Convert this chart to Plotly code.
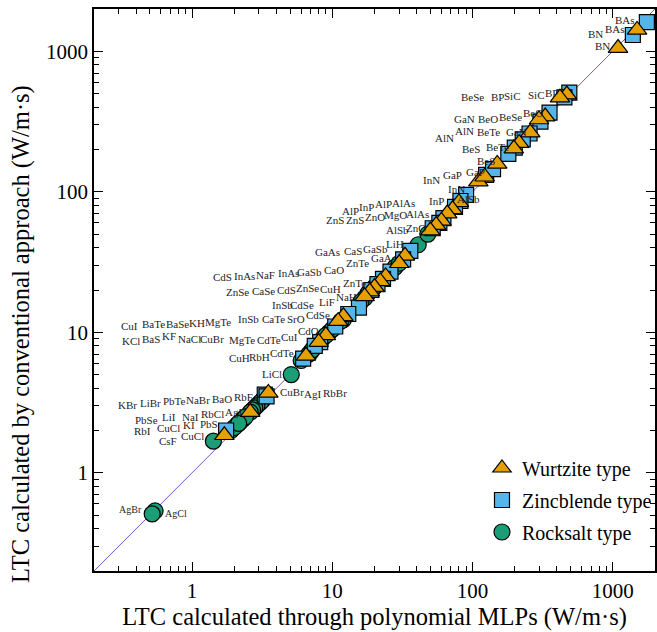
import numpy as np
import plotly.graph_objects as go

# ---------------- data (W/m·s) : x = polynomial MLP, y = conventional ----------------
wz_names = ["BAs", "BN", "BP", "SiC", "BeO", "BeSe", "GaN", "AlN", "BeTe", "BeS", "InN", "GaP",
            "AlP", "InP", "AlAs", "ZnS", "ZnO", "AlSb", "GaAs", "GaSb", "CdS", "InAs", "ZnSe",
            "CuH", "ZnTe", "InSb", "CdSe", "CuI", "MgTe", "CdTe", "CuBr", "AgI", "CuCl"]
wz_mlp = [1490, 1090, 470, 420, 330, 298, 258, 215, 197, 150, 110, 122,
          80, 72, 66, 60, 55, 50, 33, 30, 24, 22, 20,
          18.5, 17, 12, 11, 9, 8, 6.5, 3.5, 2.6, 1.7]
wz_conv = [1420, 1055, 492, 468, 343, 327, 264, 222, 203, 158, 118, 128,
           84, 75, 70, 62, 58, 53, 35, 31, 25, 23, 21,
           19.5, 18, 13, 12, 9.5, 8.5, 6.8, 3.7, 2.7, 1.85]

zb_names = ["BAs", "BN", "BP", "SiC", "BeO", "BeSe", "GaN", "AlN", "BeTe", "BeS", "InN", "GaP",
            "AlP", "InP", "AlAs", "ZnS", "ZnO", "AlSb", "GaAs", "GaSb", "CdS", "InAs", "ZnSe",
            "CuH", "ZnTe", "InSb", "CdSe", "CuI", "MgTe", "CdTe", "CuBr", "AgI", "CuCl"]
zb_mlp = [1750, 1390, 490, 452, 354, 305, 255, 228, 200, 180, 125, 140,
          90, 82, 75, 62, 58, 52, 36, 32, 26, 23, 21,
          15.5, 19, 13, 10.5, 8.2, 7.5, 6.2, 3.3, 3.4, 1.75]
zb_conv = [1615, 1306, 508, 470, 366, 316, 260, 236, 206, 186, 132, 145,
           95, 86, 78, 65, 60, 55, 38, 33, 27, 24, 22,
           15, 20, 13.5, 11, 8.5, 8, 6.5, 3.6, 3.5, 2.0]

rs_names = ["LiH", "MgO", "CaS", "NaF", "CaO", "CaSe", "LiF", "NaH", "KH", "BaTe", "BaSe", "CaTe",
            "SrO", "KCl", "BaS", "KF", "NaCl", "CdO", "RbH", "LiCl", "RbBr", "KBr", "LiBr", "PbTe",
            "NaBr", "BaO", "RbF", "PbSe", "LiI", "NaI", "RbCl", "RbI", "KI", "PbS", "CsF",
            "AgBr", "AgCl"]
rs_mlp = [41, 48, 28, 20, 30, 18, 17, 16, 9.5, 8.5, 10, 12,
          11.5, 7, 7.5, 6.8, 7.2, 9, 6, 5.1, 3.2, 3.0, 3.1, 2.9,
          2.8, 2.7, 2.6, 2.3, 2.2, 2.1, 2.4, 1.9, 2.0, 2.15, 1.42,
          0.545, 0.52]
rs_conv = [42, 50, 29, 21, 31, 19, 17.5, 16.5, 10, 9, 10.5, 12.3,
           12, 7.2, 7.8, 7, 7.5, 9.5, 6.3, 5.0, 3.3, 3.1, 3.2, 3.0,
           2.9, 2.8, 2.7, 2.4, 2.3, 2.2, 2.5, 2.0, 2.1, 2.25, 1.68,
           0.535, 0.51]

# label texts and their placement (pixel position of text centre in the figure)
label_text = ["BAs", "BAs", "BN", "BN", "BeSe", "BP", "SiC", "SiC", "BP",
              "GaN", "BeO", "BeSe", "BeO", "AlN", "AlN", "BeTe", "GaN", "BeS", "BeTe", "BeS",
              "InN", "GaP", "GaP", "InN", "AlSb", "AlP", "InP", "AlP", "AlAs", "InP",
              "ZnS", "ZnS", "ZnO", "MgO", "AlAs", "AlSb", "ZnO",
              "GaAs", "CaS", "GaSb", "LiH",
              "CdS", "InAs", "NaF", "InAs", "GaSb", "CaO", "ZnTe", "GaAs",
              "ZnSe", "CaSe", "CdS", "ZnSe", "CuH", "ZnTe",
              "InSb", "CdSe", "LiF", "NaH",
              "CuI", "BaTe", "BaSe", "KH", "MgTe", "InSb", "CaTe", "SrO", "CdSe",
              "KCl", "BaS", "KF", "NaCl", "CuBr", "MgTe", "CdTe", "CuI", "CdO",
              "CuH", "RbH", "CdTe", "LiCl", "CuBr", "AgI", "RbBr",
              "KBr", "LiBr", "PbTe", "NaBr", "BaO", "RbF",
              "PbSe", "LiI", "NaI", "RbCl", "AgI",
              "RbI", "CuCl", "KI", "PbS", "CsF", "CuCl", "AgBr", "AgCl"]
label_px = [625, 615, 595, 602, 472, 497, 512, 536, 551,
            464, 488, 510, 533, 444, 464, 488, 516, 471, 497, 486,
            431, 452, 475, 456, 468, 350, 366, 383, 403, 436,
            335, 355, 375, 395, 417, 397, 416,
            327, 353, 375, 395,
            222, 244, 265, 288, 309, 334, 357, 383,
            237, 263, 286, 307, 330, 354,
            282, 302, 327, 346,
            129, 153, 177, 197, 218, 248, 273, 296, 318,
            131, 151, 169, 189, 212, 242, 269, 289, 308,
            239, 259, 282, 272, 292, 312, 335,
            127, 150, 174, 198, 222, 243,
            146, 169, 190, 212, 233,
            142, 168, 189, 209, 168, 192, 130, 176]
label_py = [20, 29, 34, 46, 97, 97, 96, 95, 93,
            119, 119, 117, 113, 138, 131, 132, 132, 149, 147, 161,
            180, 175, 172, 189, 199, 211, 207, 204, 203, 201,
            220, 220, 217, 215, 214, 230, 228,
            252, 251, 249, 244,
            277, 276, 275, 273, 272, 270, 263, 258,
            292, 291, 290, 288, 289, 283,
            305, 305, 302, 297,
            326, 324, 324, 323, 322, 319, 319, 319, 315,
            341, 339, 336, 339, 339, 340, 340, 337, 331,
            358, 357, 353, 374, 392, 394, 393,
            405, 403, 401, 400, 399, 397,
            420, 417, 417, 414, 412,
            431, 428, 425, 424, 441, 436, 509, 513]

x_title = "LTC calculated through polynomial MLPs (W/m·s)"
y_title = "LTC calculated by conventional approach (W/m·s)"

# ---------------- figure ----------------
W, H = 657, 632
ML, MR, MT, MB = 94, 2, 9, 61
PW, PH = W - ML - MR, H - MT - MB
LO, HI = 0.2, 2000

SERIF = "Times New Roman, Liberation Serif, serif"


def paper_x(px):
    return (px - ML) / PW


def paper_y(py):
    return (H - MB - py) / PH


fig = go.Figure()

fig.add_trace(go.Scatter(x=[LO, HI], y=[LO, HI], mode="lines",
                         line=dict(color="#7b52c6", width=1), showlegend=False,
                         hoverinfo="skip"))

fig.add_trace(go.Scatter(x=rs_mlp, y=rs_conv, mode="markers", name="Rocksalt type",
                         text=rs_names, legendgroup="r", legendrank=3,
                         marker=dict(symbol="circle", size=16, color="#1b9e77",
                                     line=dict(color="black", width=1.2))))
fig.add_trace(go.Scatter(x=zb_mlp, y=zb_conv, mode="markers", name="Zincblende type",
                         text=zb_names, legendgroup="z", legendrank=2,
                         marker=dict(symbol="square", size=15, color="#56b4e9",
                                     line=dict(color="black", width=1.2))))
fig.add_trace(go.Scatter(x=wz_mlp, y=wz_conv, mode="markers", name="Wurtzite type",
                         text=wz_names, legendgroup="w", legendrank=1,
                         marker=dict(symbol="triangle-up", size=17, color="#e69f00",
                                     line=dict(color="black", width=1.2))))

for t, px, py in zip(label_text, label_px, label_py):
    fs = 10 if t in ("AgBr", "AgCl") else 11
    fig.add_annotation(x=paper_x(px), y=paper_y(py), xref="paper", yref="paper",
                       text=t, showarrow=False, font=dict(family=SERIF, size=fs, color="#1e1e1e"),
                       xanchor="center", yanchor="middle")

# y-axis title (sits lower than the plot centre in the reference)
fig.add_annotation(x=paper_x(21), y=paper_y(334), xref="paper", yref="paper",
                   text=y_title, textangle=-90, showarrow=False,
                   font=dict(family=SERIF, size=24.5, color="black"),
                   xanchor="center", yanchor="middle")

minor_vals = []
for d in [0.1, 1, 10, 100, 1000]:
    for k in range(2, 10):
        v = k * d
        if LO <= v <= HI:
            minor_vals.append(v)

axis_common = dict(type="log", range=[np.log10(LO), np.log10(HI)], automargin=False,
                   tickvals=[1, 10, 100, 1000], ticktext=["1", "10", "100", "1000"],
                   ticks="inside", ticklen=9, tickwidth=1.2, tickcolor="black",
                   minor=dict(tickvals=minor_vals, ticks="inside", ticklen=5,
                              tickwidth=1, tickcolor="black", showgrid=False),
                   showline=True, linecolor="black", linewidth=1.5, mirror="ticks",
                   showgrid=False, zeroline=False,
                   tickfont=dict(family=SERIF, size=21, color="black"))

fig.update_xaxes(**axis_common,
                 title=dict(text=x_title,
                            font=dict(family=SERIF, size=24.5, color="black"), standoff=5))
fig.update_yaxes(**axis_common)

fig.update_layout(width=W, height=H, margin=dict(l=ML, r=MR, t=MT, b=MB, autoexpand=False),
                  font=dict(family=SERIF, color="black"),
                  plot_bgcolor="white", paper_bgcolor="white",
                  legend=dict(x=0.6916, y=0.218, xanchor="left", yanchor="top",
                              traceorder="grouped", bgcolor="rgba(0,0,0,0)",
                              font=dict(family=SERIF, size=20, color="black"),
                              itemsizing="trace", tracegroupgap=3))

fig.write_html("out.html", config={"displayModeBar": False},
               post_script="document.body.style.margin='0px';document.body.style.overflow='hidden';")
